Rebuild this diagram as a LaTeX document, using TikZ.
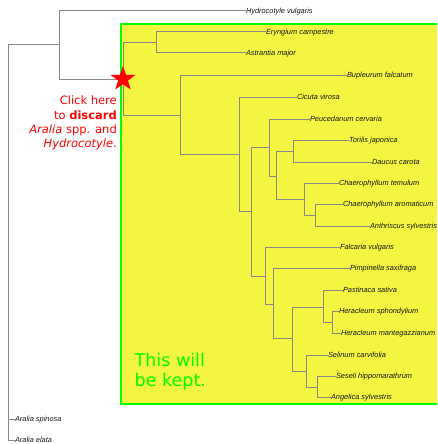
\documentclass[tikz,border=0pt]{standalone}
\usepackage{fontspec}
\newfontfamily\tipfont{Liberation Sans}
\newfontfamily\djv{DejaVu Sans}
\usetikzlibrary{shapes.geometric}
\definecolor{keepyellow}{RGB}{243,245,64}
\definecolor{keepgreen}{RGB}{0,255,0}
\definecolor{branch}{RGB}{138,138,138}
\definecolor{tiptext}{RGB}{25,25,25}
\definecolor{starred}{RGB}{255,0,0}
\begin{document}
\begin{tikzpicture}[x=1pt,y=-1pt,
  branchline/.style={draw=branch, line width=1pt},
  tip/.style={anchor=west, inner sep=0pt, outer sep=0pt, text height=5.4pt, text depth=0pt,
    font=\tipfont\itshape\fontsize{7.4}{8}\selectfont, text=tiptext},
  redtext/.style={anchor=base east, inner sep=0pt, text=starred, font=\djv\fontsize{11.5}{14}\selectfont},
  greentext/.style={anchor=base west, inner sep=0pt, text=keepgreen, font=\djv\fontsize{17.5}{20}\selectfont},
  starmark/.style={star, star points=5, star point ratio=2.5, minimum size=26pt, inner sep=0pt, fill=starred, draw=none}
]
\useasboundingbox (0,0) rectangle (437,444);
\clip (0,0) rectangle (437,444);
% kept clade box
\draw[draw=keepgreen, fill=keepyellow, line width=2pt] (121,24) rectangle (450,404);

% internal nodes
\coordinate (root) at (8,45);
\coordinate (nA) at (59,45);
\coordinate (nB) at (123,79);
\coordinate (nC) at (156,43);
\coordinate (nD) at (180,115);
\coordinate (nE) at (239,154);
\coordinate (nF) at (251,211);
\coordinate (nG) at (269,147);
\coordinate (nH) at (276,176);
\coordinate (nI) at (293,151);
\coordinate (nJ) at (304,199);
\coordinate (nJb) at (315,215);
\coordinate (nK) at (265,276);
\coordinate (nL) at (273,304);
\coordinate (nM) at (292,338);
\coordinate (nN) at (323,307);
\coordinate (nO) at (332,322);
\coordinate (nP) at (306,371);
\coordinate (nQ) at (317,387);

% leaves
\node[tip] (tHyd) at (246,11) {Hydrocotyle vulgaris};
\node[tip] (tEry) at (266,32) {Eryngium campestre};
\node[tip] (tAst) at (246,53) {Astrantia major};
\node[tip] (tBup) at (347,75) {Bupleurum falcatum};
\node[tip] (tCic) at (297,97) {Cicuta virosa};
\node[tip] (tPeu) at (310,119) {Peucedanum cervaria};
\node[tip] (tTor) at (349,140) {Torilis japonica};
\node[tip] (tDau) at (372,162) {Daucus carota};
\node[tip] (tChT) at (339,183) {Chaerophyllum temulum};
\node[tip] (tChA) at (343,204) {Chaerophyllum aromaticum};
\node[tip] (tAnt) at (370,226) {Anthriscus sylvestris};
\node[tip] (tFal) at (340,247) {Falcaria vulgaris};
\node[tip] (tPim) at (350,268) {Pimpinella saxifraga};
\node[tip] (tPas) at (343,290) {Pastinaca sativa};
\node[tip] (tHSp) at (339,311) {Heracleum sphondylium};
\node[tip] (tHMa) at (341,333) {Heracleum mantegazzianum};
\node[tip] (tSel) at (328,355) {Selinum carvifolia};
\node[tip] (tSes) at (336,376) {Seseli hippomarathrum};
\node[tip] (tAng) at (331,397) {Angelica sylvestris};
\node[tip] (tASp) at (15,419) {Aralia spinosa};
\node[tip] (tAEl) at (15,440) {Aralia elata};

% branches
\draw[branchline] (root) |- (nA);
\draw[branchline] (root) |- (tASp.west);
\draw[branchline] (root) |- (tAEl.west);
\draw[branchline] (nA) |- (tHyd.west);
\draw[branchline] (nA) |- (nB);
\draw[branchline] (nB) |- (nC);
\draw[branchline] (nB) |- (nD);
\draw[branchline] (nC) |- (tEry.west);
\draw[branchline] (nC) |- (tAst.west);
\draw[branchline] (nD) |- (tBup.west);
\draw[branchline] (nD) |- (nE);
\draw[branchline] (nE) |- (tCic.west);
\draw[branchline] (nE) |- (nF);
\draw[branchline] (nF) |- (nG);
\draw[branchline] (nF) |- (nK);
\draw[branchline] (nG) |- (tPeu.west);
\draw[branchline] (nG) |- (nH);
\draw[branchline] (nH) |- (nI);
\draw[branchline] (nH) |- (nJ);
\draw[branchline] (nI) |- (tTor.west);
\draw[branchline] (nI) |- (tDau.west);
\draw[branchline] (nJ) |- (tChT.west);
\draw[branchline] (nJ) |- (nJb);
\draw[branchline] (nJb) |- (tChA.west);
\draw[branchline] (nJb) |- (tAnt.west);
\draw[branchline] (nK) |- (tFal.west);
\draw[branchline] (nK) |- (nL);
\draw[branchline] (nL) |- (tPim.west);
\draw[branchline] (nL) |- (nM);
\draw[branchline] (nM) |- (nN);
\draw[branchline] (nM) |- (nP);
\draw[branchline] (nN) |- (tPas.west);
\draw[branchline] (nN) |- (nO);
\draw[branchline] (nO) |- (tHSp.west);
\draw[branchline] (nO) |- (tHMa.west);
\draw[branchline] (nP) |- (tSel.west);
\draw[branchline] (nP) |- (nQ);
\draw[branchline] (nQ) |- (tSes.west);
\draw[branchline] (nQ) |- (tAng.west);

% star
\node[starmark] (cut) at (123,79) {};

% annotations
\node[redtext] (r1) at (117,104.5) {Click here};
\node[redtext] (r2) at (117,119) {to \textbf{discard}};
\node[redtext] (r3) at (117,133.3) {\textit{Aralia} spp. and};
\node[redtext] (r4) at (117,147.3) {\textit{Hydrocotyle}.};
\node[greentext] (g1) at (134.5,366) {This will};
\node[greentext] (g2) at (134.5,386.5) {be kept.};
\end{tikzpicture}
\end{document}
